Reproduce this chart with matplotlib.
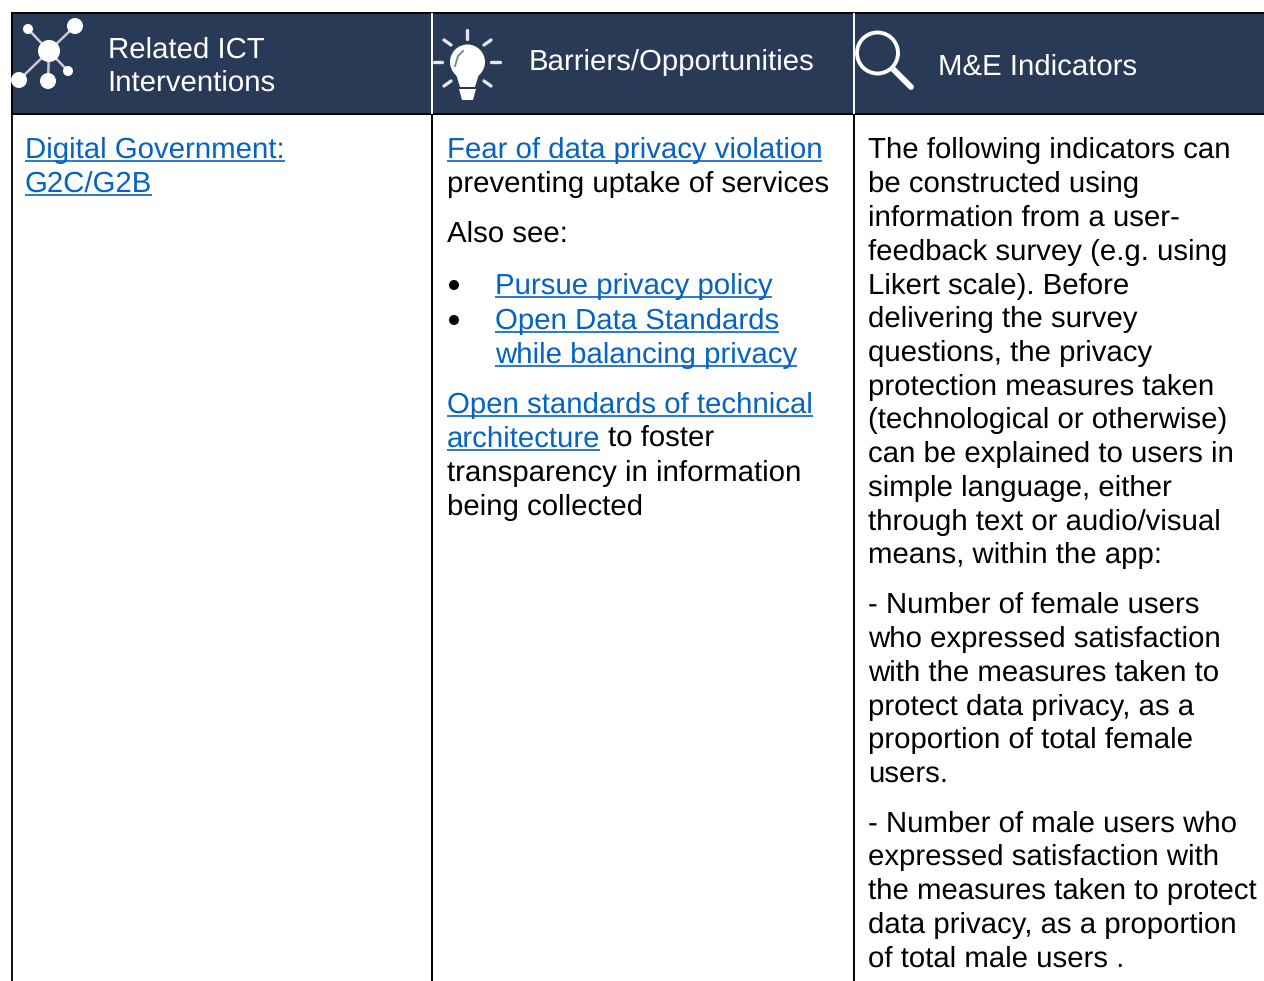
import matplotlib
matplotlib.use("Agg")
import matplotlib.pyplot as plt
from matplotlib.patches import Rectangle, Circle, Polygon

plt.rcParams['font.family'] = ['Liberation Sans', 'DejaVu Sans']
plt.rcParams['text.hinting'] = 'no_hinting'

NAVY = "#293a56"
LINK = "#0563c1"
BLACK = "#000000"
FS = 21.18

# header labels: text, x, baseline
headers = [("Related ICT", 107.5, 58), ("Interventions", 107.5, 91),
           ("Barriers/Opportunities", 529, 70), ("M&E Indicators", 938.5, 75)]

# body text: text, x, baseline, is link
col1 = [("Digital Government:", 25, 158, True), ("G2C/G2B", 25, 192, True)]
col2 = [("Fear of data privacy violation", 446.7, 158, True),
        ("preventing uptake of services", 446.7, 192, False),
        ("Also see:", 446.7, 242, False),
        ("Pursue privacy policy", 494.7, 294, True),
        ("Open Data Standards", 494.7, 329, True),
        ("while balancing privacy", 494.7, 363, True),
        ("Open standards of technical", 446.7, 413, True),
        ("architecture", 446.7, 447, True),
        ("to foster", 608, 447, False),
        ("transparency in information", 446.7, 481, False),
        ("being collected", 446.7, 515, False)]
bullets_y = [285, 320]
col3_lines = ["The following indicators can", "be constructed using",
              "information from a user-", "feedback survey (e.g. using",
              "Likert scale). Before", "delivering the survey",
              "questions, the privacy", "protection measures taken",
              "(technological or otherwise)", "can be explained to users in",
              "simple language, either", "through text or audio/visual",
              "means, within the app:",
              "- Number of female users", "who expressed satisfaction",
              "with the measures taken to", "protect data privacy, as a",
              "proportion of total female", "users.",
              "- Number of male users who", "expressed satisfaction with",
              "the measures taken to protect", "data privacy, as a proportion",
              "of total male users ."]
col3_base = [158, 192, 226, 260, 294, 327, 361, 395, 428, 462, 496, 530, 563,
             613, 647, 681, 715, 748, 782, 832, 865, 899, 933, 967]

fig = plt.figure(figsize=(12.64, 9.81), dpi=100)
ax = fig.add_axes([0, 0, 1, 1])
ax.set_xlim(0, 1264)
ax.set_ylim(981, 0)
ax.axis("off")

# header band and grid lines
ax.add_patch(Rectangle((11, 13), 1253, 101, fc=NAVY, ec="none"))
ax.plot([10.5, 1264], [13, 13], color=BLACK, lw=1.4, solid_capstyle="butt")
ax.plot([10.5, 1264], [114, 114], color=BLACK, lw=1.4, solid_capstyle="butt")
ax.plot([11.5, 11.5], [13, 981], color=BLACK, lw=1.3)
for x in [432.2, 854.2]:
    ax.plot([x, x], [14, 113], color="white", lw=1.4)
    ax.plot([x, x], [115, 981], color=BLACK, lw=1.4)

# network icon
hub = (49, 51)
nodes = [(28, 29, 5), (75, 26, 8), (68, 71, 5), (48, 81, 8), (19, 80, 8)]
for nx, ny, r in nodes:
    ax.plot([hub[0], nx], [hub[1], ny], color="#c9cdd4", lw=1.8, zorder=3)
    ax.add_patch(Circle((nx, ny), r, fc="white", ec="none", zorder=4))
ax.add_patch(Circle(hub, 11, fc="white", ec="none", zorder=4))

# bulb icon
ax.add_patch(Circle((467.5, 62), 17.5, fc="white", ec="none"))
ax.add_patch(Polygon([(456, 74), (479, 74), (475, 87), (460, 87)], fc="white", ec="none"))
ax.add_patch(Polygon([(459, 89), (476, 89), (473, 100), (462, 100)], fc="white", ec="none"))
ax.plot([455, 458, 463], [66, 56, 51], color=NAVY, lw=1.4, alpha=0.6)
rays = [((467, 30), (467, 39)), ((444, 40), (451, 45)), ((491, 40), (484, 45)),
        ((434, 62), (442, 62)), ((491, 62), (500, 62)),
        ((444, 86), (451, 81)), ((491, 86), (484, 81))]
for a, b in rays:
    ax.plot([a[0], b[0]], [a[1], b[1]], color="#e4e6ea", lw=2.4, solid_capstyle="round")

# magnifier icon
ax.add_patch(Circle((877.5, 53), 20.5, fc="none", ec="white", lw=2.8))
ax.plot([893, 911], [69, 87], color="white", lw=4.2, solid_capstyle="round")

for s, x, y in headers:
    ax.text(x, y, s, color="white", fontsize=FS, va="baseline", ha="left")

renderer = fig.canvas.get_renderer()
for s, x, y, is_link in col1 + col2:
    t = ax.text(x, y, s, color=LINK if is_link else BLACK, fontsize=FS, va="baseline", ha="left")
    if is_link:
        w = t.get_window_extent(renderer).width
        ax.plot([x, x + w], [y + 3, y + 3], color=LINK, lw=1.2, solid_capstyle="butt")

for y in bullets_y:
    ax.add_patch(Circle((454, y), 5, fc=BLACK, ec="none"))

for s, y in zip(col3_lines, col3_base):
    ax.text(868.5, y, s, color=BLACK, fontsize=FS, va="baseline", ha="left")

fig.savefig("out.png", dpi=100)
